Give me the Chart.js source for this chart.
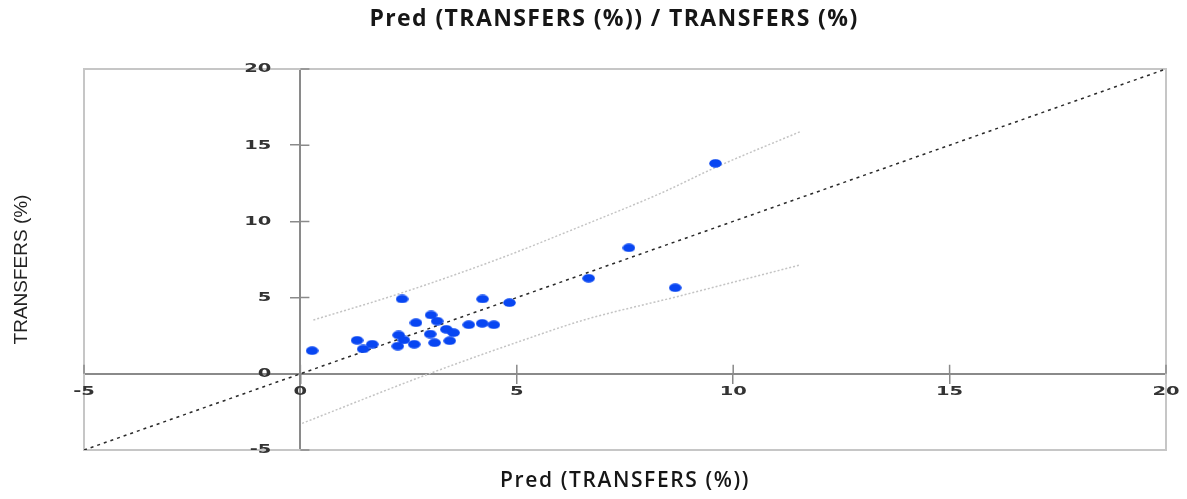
<!DOCTYPE html>
<html>
<head>
<meta charset="utf-8">
<script src="https://cdn.jsdelivr.net/npm/chart.js@4.4.1/dist/chart.umd.min.js"></script>
<style>
  html, body { margin: 0; padding: 0; background: #fff; }
  #wrap { width: 1187px; height: 499px; }
</style>
</head>
<body>
<div id="wrap"><canvas id="predChart"></canvas></div>
<script>
// --- data ---
const predVals = [0.27, 1.31, 1.45, 1.66, 2.25, 2.27, 2.39, 2.35, 2.63, 2.67, 3.02, 3.16, 3.00,
                  3.10, 3.37, 3.54, 3.45, 3.89, 4.21, 4.20, 4.47, 4.83, 6.66, 7.59, 8.66, 9.59];
const obsVals  = [1.52, 2.20, 1.63, 1.94, 1.82, 2.55, 2.22, 4.91, 1.94, 3.35, 3.86, 3.46, 2.61,
                  2.04, 2.92, 2.70, 2.17, 3.22, 4.91, 3.31, 3.22, 4.67, 6.27, 8.27, 5.65, 13.81];

const identityX = [-5, 20];
const identityY = [-5, 20];

const upperX = [0.30, 2.31, 4.62, 6.55, 8.32, 9.63, 11.55];
const upperY = [3.53, 5.28, 7.58, 9.76, 11.84, 13.59, 15.89];
const lowerX = [0.04, 3.00, 5.16, 6.55, 8.70, 11.55];
const lowerY = [-3.25, 0.03, 2.22, 3.53, 5.06, 7.14];

const axisMin = -5, axisMax = 20, axisStep = 5;

const chartTitle = 'Pred (TRANSFERS (%)) / TRANSFERS (%)';
const xTitle = 'Pred (TRANSFERS (%))';
const yTitle = 'TRANSFERS (%)';

const pairs = (xs, ys) => xs.map((x, i) => ({ x: x, y: ys[i] }));

// the markers in the picture are flat blobs, not round dots
const blob = document.createElement('canvas');
blob.width = 13; blob.height = 9;
(function () {
    const b = blob.getContext('2d');
    b.fillStyle = '#0846f2';
    b.beginPath();
    b.ellipse(6.5, 4.5, 6.3, 4.3, 0, 0, Math.PI * 2);
    b.fill();
})();

// tick labels are wide and squat in the original, so they are drawn stretched
function drawTickLabel(ctx, text, x, y, align) {
    const stretch = 1.5;
    ctx.save();
    ctx.translate(x, y);
    ctx.scale(stretch, 1);
    ctx.textAlign = align;
    ctx.fillText(text, 0, 0);
    ctx.restore();
}

// --- frame, inner tick halves, tick labels and titles ---
const framePlugin = {
    id: 'framePlugin',
    beforeDatasetsDraw(chart) {
        const { ctx, chartArea: a, scales } = chart;
        ctx.save();
        ctx.strokeStyle = '#c6c6c6';
        ctx.lineWidth = 2;
        ctx.strokeRect(a.left, a.top, a.right - a.left, a.bottom - a.top);

        // the axes carry crosses at each tick, the library draws the outer half
        const x0 = scales.x.getPixelForValue(0);
        const y0 = scales.y.getPixelForValue(0);
        ctx.strokeStyle = '#8a8a8a';
        ctx.lineWidth = 1.5;
        ctx.beginPath();
        scales.x.ticks.forEach(t => {
            const px = scales.x.getPixelForValue(t.value);
            ctx.moveTo(px, y0 - 9); ctx.lineTo(px, y0);
        });
        scales.y.ticks.forEach(t => {
            const py = scales.y.getPixelForValue(t.value);
            ctx.moveTo(x0, py); ctx.lineTo(x0 + 9, py);
        });
        ctx.stroke();

        ctx.fillStyle = '#333';
        ctx.font = 'bold 13px "DejaVu Sans"';
        ctx.textBaseline = 'middle';
        scales.x.ticks.forEach(t => {
            drawTickLabel(ctx, t.label, scales.x.getPixelForValue(t.value), y0 + 18, 'center');
        });
        scales.y.ticks.forEach(t => {
            drawTickLabel(ctx, t.label, x0 - 29, scales.y.getPixelForValue(t.value), 'right');
        });
        ctx.restore();
    },
    afterDraw(chart) {
        const { ctx, chartArea: a } = chart;
        const midX = (a.left + a.right) / 2;
        const midY = (a.top + a.bottom) / 2;
        ctx.save();
        ctx.fillStyle = '#161616';
        ctx.textAlign = 'center';
        ctx.textBaseline = 'middle';
        ctx.font = 'bold 23px "Open Sans"';
        ctx.letterSpacing = '1.4px';
        ctx.fillText(chartTitle, midX - 11, 19);
        ctx.font = '600 21px "Open Sans"';
        ctx.letterSpacing = '1.6px';
        ctx.fillText(xTitle, midX, a.bottom + 31);
        ctx.letterSpacing = '0px';
        ctx.translate(22, midY + 10);
        ctx.rotate(-Math.PI / 2);
        ctx.fillStyle = '#222';
        ctx.font = '19px "Liberation Sans"';
        ctx.fillText(yTitle, 0, 0);
        ctx.restore();
    }
};

const ctx = document.getElementById('predChart').getContext('2d');
const predChart = new Chart(ctx, {
    type: 'scatter',
    data: {
        datasets: [{
            label: 'Observations',
            data: pairs(predVals, obsVals),
            pointStyle: blob,
            backgroundColor: '#0846f2',
            borderColor: '#0846f2',
            pointRadius: 5,
            pointHoverRadius: 5,
            order: 0
        }, {
            label: 'Identity',
            data: pairs(identityX, identityY),
            showLine: true,
            borderColor: '#2a2a2a',
            borderWidth: 1.5,
            borderDash: [3, 4],
            pointRadius: 0,
            order: 1
        }, {
            label: 'Upper bound',
            data: pairs(upperX, upperY),
            showLine: true,
            cubicInterpolationMode: 'monotone',
            borderColor: '#c4c4c4',
            borderWidth: 1.5,
            borderDash: [2, 2],
            pointRadius: 0,
            order: 2
        }, {
            label: 'Lower bound',
            data: pairs(lowerX, lowerY),
            showLine: true,
            cubicInterpolationMode: 'monotone',
            borderColor: '#c4c4c4',
            borderWidth: 1.5,
            borderDash: [2, 2],
            pointRadius: 0,
            order: 2
        }]
    },
    options: {
        responsive: true,
        maintainAspectRatio: false,
        animation: false,
        layout: { padding: { left: 84, right: 21, top: 69, bottom: 49 } },
        plugins: {
            legend: { display: false },
            title: { display: false },
            tooltip: { enabled: false }
        },
        scales: {
            x: {
                type: 'linear',
                min: axisMin, max: axisMax,
                position: { y: 0 },
                ticks: { stepSize: axisStep, display: false },
                grid: { drawOnChartArea: false, color: '#8a8a8a', tickLength: 9, lineWidth: 1.5 },
                border: { color: '#8a8a8a', width: 2 },
                afterFit(s) { s.height = 0; }
            },
            y: {
                type: 'linear',
                min: axisMin, max: axisMax,
                position: { x: 0 },
                ticks: { stepSize: axisStep, display: false },
                grid: { drawOnChartArea: false, color: '#8a8a8a', tickLength: 9, lineWidth: 1.5 },
                border: { color: '#8a8a8a', width: 2 },
                afterFit(s) { s.width = 0; }
            }
        }
    },
    plugins: [framePlugin]
});
</script>
</body>
</html>
